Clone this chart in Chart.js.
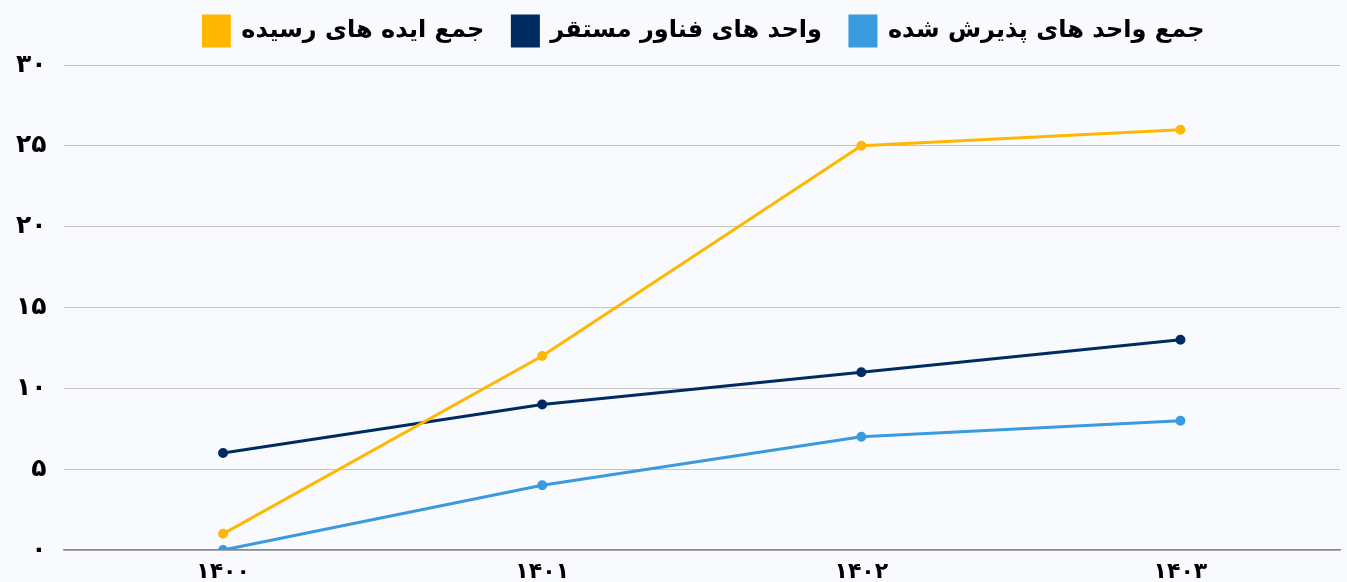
<!DOCTYPE html>
<html>
<head>
<meta charset="utf-8">
<script src="https://cdn.jsdelivr.net/npm/chart.js@4/dist/chart.umd.min.js"></script>
<style>
  html, body { margin: 0; padding: 0; background: #f9fafd; }
  #wrap { width: 1347px; height: 582px; }
</style>
</head>
<body>
<div id="wrap"><canvas id="chart"></canvas></div>
<script>
// years (persian digits)
const years = ['۱۴۰۰', '۱۴۰۱', '۱۴۰۲', '۱۴۰۳'];

const ideas = [1, 12, 25, 26];        // جمع ایده های رسیده
const techUnits = [6, 9, 11, 13];     // واحد های فناور مستقر
const accepted = [0, 4, 7, 8];        // جمع واحد های پذیرش شده

const yTickLabels = ['۰', '۵', '۱۰', '۱۵', '۲۰', '۲۵', '۳۰'];

const font = 'DejaVu Sans';

// legend: a bit more room under it and nudged right
const legendTweak = {
  id: 'legendTweak',
  beforeInit(chart) {
    const lg = chart.legend;
    const fit = lg.fit;
    lg.fit = function () {
      fit.call(this);
      this.height += 9;
    };
  },
  afterLayout(chart) {
    chart.legend.left += 34;
    chart.legend.right += 34;
  }
};

new Chart(document.getElementById('chart'), {
  type: 'line',
  data: {
    labels: years,
    datasets: [
      {
        label: 'جمع ایده های رسیده',
        data: ideas,
        borderColor: '#ffb703',
        backgroundColor: '#ffb703',
        borderWidth: 3,
        pointRadius: 3.5,
        tension: 0
      },
      {
        label: 'واحد های فناور مستقر',
        data: techUnits,
        borderColor: '#002b60',
        backgroundColor: '#002b60',
        borderWidth: 3,
        pointRadius: 3.5,
        tension: 0
      },
      {
        label: 'جمع واحد های پذیرش شده',
        data: accepted,
        borderColor: '#3a9ade',
        backgroundColor: '#3a9ade',
        borderWidth: 3,
        pointRadius: 3.5,
        tension: 0
      }
    ]
  },
  plugins: [legendTweak],
  options: {
    responsive: true,
    maintainAspectRatio: false,
    animation: false,
    layout: { padding: { left: -1, right: 6, top: -12, bottom: -20 } },
    plugins: {
      tooltip: { enabled: false },
      legend: {
        position: 'top',
        labels: {
          color: '#000',
          font: { family: font, size: 24, weight: 'bold' },
          boxWidth: 26,
          boxHeight: 30,
          padding: 28
        }
      }
    },
    scales: {
      x: {
        offset: true,
        grid: { display: false, drawTicks: false },
        border: { display: true, color: '#888', width: 1.5 },
        ticks: {
          color: '#000',
          padding: 11,
          font: { family: font, size: 22, weight: 'bold', lineHeight: 1 }
        }
      },
      y: {
        min: 0,
        max: 30,
        ticks: {
          stepSize: 5,
          color: '#000',
          padding: 17,
          font: { family: font, size: 25, weight: 'bold' },
          callback: (v) => yTickLabels[v / 5]
        },
        grid: { color: '#c4c4c4', drawTicks: false },
        border: { display: false }
      }
    }
  }
});
</script>
</body>
</html>
